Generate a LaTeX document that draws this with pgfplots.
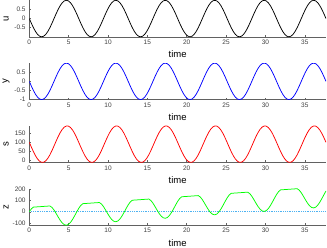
\documentclass[border=0pt]{standalone}
\usepackage{pgfplots}
\usepackage{pgfplotstable}
\pgfplotsset{compat=1.18}
\usepackage{fontspec}
\setmainfont{Liberation Sans}
\definecolor{axgray}{rgb}{0.38,0.38,0.38}
\definecolor{zeroblue}{rgb}{0.30,0.70,0.95}
\pgfplotstableread{
t u s z
0 0 100 0
0.2618 -0.2588 73.8 25.5
0.5236 -0.5 48.7 40.5
0.7854 -0.7071 26.4 41.8
1.0472 -0.866 8.4 43.0
1.3090 -0.9659 -4.0 44.3
1.5708 -1 -10 45.5
1.8326 -0.9659 -9.2 46.8
2.0944 -0.866 -1.6 48.1
2.3562 -0.7071 12.2 49.3
2.6180 -0.5 31.3 50.6
2.8798 -0.2588 54.5 38.0
3.1416 0 80 15.1
3.4034 0.2588 106.2 -14.3
3.6652 0.5 131.3 -45.3
3.9270 0.7071 153.6 -74.5
4.1888 0.866 171.6 -98.0
4.4506 0.9659 184.0 -113.0
4.7124 1 190 -117.4
4.9742 0.9659 189.2 -110.5
5.2360 0.866 181.6 -93.0
5.4978 0.7071 167.8 -66.9
5.7596 0.5 148.7 -35.3
6.0214 0.2588 125.5 -1.7
6.2832 0 100 30.2
6.5450 -0.2588 73.8 55.7
6.8068 -0.5 48.7 70.7
7.0686 -0.7071 26.4 72.0
7.3304 -0.866 8.4 73.2
7.5922 -0.9659 -4.0 74.5
7.8540 -1 -10 75.7
8.1158 -0.9659 -9.2 77.0
8.3776 -0.866 -1.6 78.3
8.6394 -0.7071 12.2 79.5
8.9012 -0.5 31.3 80.8
9.1630 -0.2588 54.5 68.2
9.4248 0 80 45.3
9.6866 0.2588 106.2 15.9
9.9484 0.5 131.3 -15.1
10.2102 0.7071 153.6 -44.3
10.4720 0.866 171.6 -67.8
10.7338 0.9659 184.0 -82.8
10.9956 1 190 -87.2
11.2574 0.9659 189.2 -80.3
11.5192 0.866 181.6 -62.8
11.7810 0.7071 167.8 -36.7
12.0428 0.5 148.7 -5.1
12.3046 0.2588 125.5 28.5
12.5664 0 100 60.3
12.8282 -0.2588 73.8 85.8
13.0900 -0.5 48.7 100.8
13.3518 -0.7071 26.4 102.1
13.6136 -0.866 8.4 103.3
13.8754 -0.9659 -4.0 104.6
14.1372 -1 -10 105.8
14.3990 -0.9659 -9.2 107.1
14.6608 -0.866 -1.6 108.4
14.9226 -0.7071 12.2 109.6
15.1844 -0.5 31.3 110.9
15.4462 -0.2588 54.5 98.3
15.7080 0 80 75.4
15.9698 0.2588 106.2 46.0
16.2316 0.5 131.3 15.0
16.4934 0.7071 153.6 -14.2
16.7552 0.866 171.6 -37.7
17.0170 0.9659 184.0 -52.7
17.2788 1 190 -57.1
17.5406 0.9659 189.2 -50.2
17.8024 0.866 181.6 -32.7
18.0642 0.7071 167.8 -6.6
18.3260 0.5 148.7 25.0
18.5878 0.2588 125.5 58.6
18.8496 0 100 90.5
19.1114 -0.2588 73.8 116.0
19.3732 -0.5 48.7 131.0
19.6350 -0.7071 26.4 132.3
19.8968 -0.866 8.4 133.5
20.1586 -0.9659 -4.0 134.8
20.4204 -1 -10 136.0
20.6822 -0.9659 -9.2 137.3
20.9440 -0.866 -1.6 138.6
21.2058 -0.7071 12.2 139.8
21.4676 -0.5 31.3 141.1
21.7294 -0.2588 54.5 128.5
21.9911 0 80 105.6
22.2529 0.2588 106.2 76.2
22.5147 0.5 131.3 45.2
22.7765 0.7071 153.6 16.0
23.0383 0.866 171.6 -7.5
23.3001 0.9659 184.0 -22.5
23.5619 1 190 -26.9
23.8237 0.9659 189.2 -20.0
24.0855 0.866 181.6 -2.5
24.3473 0.7071 167.8 23.6
24.6091 0.5 148.7 55.2
24.8709 0.2588 125.5 88.8
25.1327 0 100 120.6
25.3945 -0.2588 73.8 146.1
25.6563 -0.5 48.7 161.1
25.9181 -0.7071 26.4 162.4
26.1799 -0.866 8.4 163.6
26.4417 -0.9659 -4.0 164.9
26.7035 -1 -10 166.1
26.9653 -0.9659 -9.2 167.4
27.2271 -0.866 -1.6 168.7
27.4889 -0.7071 12.2 169.9
27.7507 -0.5 31.3 171.2
28.0125 -0.2588 54.5 158.6
28.2743 0 80 135.7
28.5361 0.2588 106.2 106.3
28.7979 0.5 131.3 75.3
29.0597 0.7071 153.6 46.1
29.3215 0.866 171.6 22.6
29.5833 0.9659 184.0 7.6
29.8451 1 190 3.2
30.1069 0.9659 189.2 10.1
30.3687 0.866 181.6 27.6
30.6305 0.7071 167.8 53.7
30.8923 0.5 148.7 85.3
31.1541 0.2588 125.5 118.9
31.4159 0 100 150.8
31.6777 -0.2588 73.8 176.3
31.9395 -0.5 48.7 191.3
32.2013 -0.7071 26.4 192.6
32.4631 -0.866 8.4 193.8
32.7249 -0.9659 -4.0 195.1
32.9867 -1 -10 196.3
33.2485 -0.9659 -9.2 197.6
33.5103 -0.866 -1.6 198.9
33.7721 -0.7071 12.2 200.1
34.0339 -0.5 31.3 201.4
34.2957 -0.2588 54.5 188.8
34.5575 0 80 165.9
34.8193 0.2588 106.2 136.5
35.0811 0.5 131.3 105.5
35.3429 0.7071 153.6 76.3
35.6047 0.866 171.6 52.8
35.8665 0.9659 184.0 37.8
36.1283 1 190 33.4
36.3901 0.9659 189.2 40.3
36.6519 0.866 181.6 57.8
36.9137 0.7071 167.8 83.9
37.1755 0.5 148.7 115.5
37.4373 0.2588 125.5 149.1
37.6991 0 100 181.0
}\data
\pgfplotsset{
  panel/.style={
    anchor=south west, scale only axis,
    width=296.7pt, height=36.5pt,
    xmin=0, xmax=37.6991,
    axis x line=bottom, axis y line=left,
    axis line style={-, draw=axgray, line width=0.5pt},
    tick align=inside, major tick length=2pt,
    tick style={axgray, line width=0.5pt},
    xtick={0,5,...,35},
    ticklabel style={font=\fontsize{6.5}{7.5}\selectfont, text=black!75},
    /pgf/number format/assume math mode=true,
    xticklabel style={inner sep=0pt, anchor=north, yshift=-3.0pt},
    yticklabel style={inner sep=0pt, anchor=east, xshift=-3.5pt},
    xlabel={time},
    xlabel style={font=\fontsize{9.5}{10}\selectfont, at={(axis description cs:0.5,0)}, anchor=center, yshift=-17.5pt},
    ylabel style={font=\fontsize{9.5}{10}\selectfont, at={(axis description cs:-0.078,0.5)}, anchor=center},
    every axis plot/.append style={line width=0.75pt},
  }
}
\begin{document}
\begin{tikzpicture}
\begin{axis}[panel, at={(29.3pt,210.2pt)}, ymin=-1, ymax=1, ytick={-0.5,0,0.5}, ylabel={u}]
\addplot[black, no marks] table[x=t, y=u] {\data};
\end{axis}
\begin{axis}[panel, at={(29.3pt,147.4pt)}, ymin=-1, ymax=1, ytick={-1,-0.5,0,0.5}, ylabel={y}]
\addplot[blue, no marks] table[x=t, y=u] {\data};
\end{axis}
\begin{axis}[panel, at={(29.3pt,84.6pt)}, ymin=-10.5, ymax=190.5, ytick={0,50,100,150}, ylabel={s}]
\addplot[red, no marks] table[x=t, y=s] {\data};
\end{axis}
\begin{axis}[panel, at={(29.3pt,21.8pt)}, ymin=-117.4, ymax=201.4, ytick={-100,0,100,200}, ylabel={z}]
\addplot[zeroblue, line width=0.7pt, dash pattern=on 0.7pt off 1.1pt, no marks] coordinates {(0,0) (37.6991,0)};
\addplot[green, no marks] table[x=t, y=z] {\data};
\end{axis}
\pgfresetboundingbox
\useasboundingbox (0,0) rectangle (327pt,247pt);
\end{tikzpicture}
\end{document}
